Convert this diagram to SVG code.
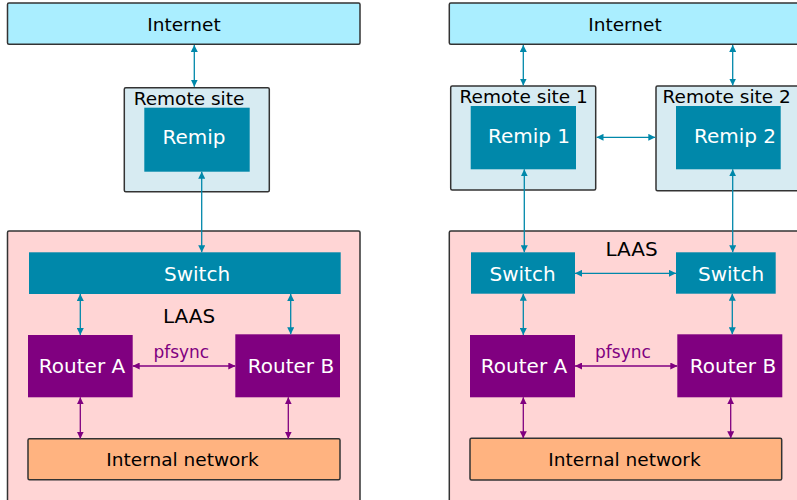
<svg xmlns="http://www.w3.org/2000/svg" width="797" height="500" viewBox="0 0 797 500">
  <style>
    text { font-family: "DejaVu Sans", "Liberation Sans", sans-serif; text-anchor: middle; }
    .frame { stroke: #333; stroke-width: 1.5; }
    .inet { fill: #aaeeff; }
    .site { fill: #d7ebf2; }
    .laas { fill: #ffd5d5; }
    .intnet { fill: #ffb380; }
    .teal { fill: #0088aa; }
    .router { fill: #800080; }
    .lbl { fill: #000; font-size: 18.5px; }
    .nlbl { fill: #fff; font-size: 20px; }
    .big { fill: #000; font-size: 20px; }
    .sync { fill: #800080; font-size: 17px; }
    .ct { stroke: #0088aa; stroke-width: 1.3; fill: none; marker-start: url(#ht); marker-end: url(#ht); }
    .cp { stroke: #800080; stroke-width: 1.3; fill: none; marker-start: url(#hp); marker-end: url(#hp); }
  </style>
  <defs>
    <marker id="ht" viewBox="0 0 10 10" refX="10" refY="5" markerWidth="7" markerHeight="7" markerUnits="userSpaceOnUse" orient="auto-start-reverse">
      <path d="M0,0 L10,5 L0,10 z" fill="#0088aa"/>
    </marker>
    <marker id="hp" viewBox="0 0 10 10" refX="10" refY="5" markerWidth="7" markerHeight="7" markerUnits="userSpaceOnUse" orient="auto-start-reverse">
      <path d="M0,0 L10,5 L0,10 z" fill="#800080"/>
    </marker>
  </defs>

  <!-- Left: single remote site -->
  <g id="l-internet">
    <rect class="inet frame" x="7.5" y="3" width="352.5" height="41.3" rx="1.5"/>
    <text class="lbl" x="184" y="30.7">Internet</text>
  </g>
  <g id="l-remote-site">
    <rect class="site frame" x="124.3" y="87.7" width="145" height="104" rx="1.5"/>
    <text class="lbl" x="189" y="105">Remote site</text>
  </g>
  <g id="l-remip">
    <rect class="teal" x="144.3" y="107.7" width="105.4" height="64"/>
    <text class="nlbl" x="194" y="144">Remip</text>
  </g>
  <g id="l-laas">
    <rect class="laas frame" x="7.5" y="231" width="352.5" height="280" rx="1.5"/>
    <text class="big" x="189" y="322.7">LAAS</text>
  </g>
  <g id="l-switch">
    <rect class="teal" x="29" y="252.3" width="311.7" height="41.7"/>
    <text class="nlbl" x="197" y="281">Switch</text>
  </g>
  <g id="l-router-a">
    <rect class="router" x="28" y="335" width="104.7" height="62.3"/>
    <text class="nlbl" x="82" y="373.3">Router A</text>
  </g>
  <g id="l-router-b">
    <rect class="router" x="235.3" y="334.3" width="104.7" height="63"/>
    <text class="nlbl" x="291" y="373.3">Router B</text>
  </g>
  <g id="l-internal">
    <rect class="intnet frame" x="28" y="438.7" width="312" height="41" rx="1.5"/>
    <text class="lbl" x="182.5" y="466">Internal network</text>
  </g>

  <!-- Right: two remote sites -->
  <g id="r-internet">
    <rect class="inet frame" x="449.3" y="3" width="360" height="41.3" rx="1.5"/>
    <text class="lbl" x="625" y="30.7">Internet</text>
  </g>
  <g id="r-remote-site-1">
    <rect class="site frame" x="450.7" y="86" width="145" height="104" rx="1.5"/>
    <text class="lbl" x="523.7" y="102.5">Remote site 1</text>
  </g>
  <g id="r-remip-1">
    <rect class="teal" x="470.7" y="106" width="105.3" height="63.3"/>
    <text class="nlbl" x="529" y="142.7">Remip 1</text>
  </g>
  <g id="r-remote-site-2">
    <rect class="site frame" x="656" y="86" width="150" height="104.7" rx="1.5"/>
    <text class="lbl" x="726.7" y="102.5">Remote site 2</text>
  </g>
  <g id="r-remip-2">
    <rect class="teal" x="676" y="106" width="104.7" height="63.3"/>
    <text class="nlbl" x="735" y="142.7">Remip 2</text>
  </g>
  <g id="r-laas">
    <rect class="laas frame" x="449.3" y="231" width="360" height="280" rx="1.5"/>
    <text class="big" x="631.5" y="255.7">LAAS</text>
  </g>
  <g id="r-switch-a">
    <rect class="teal" x="471" y="252.3" width="104" height="41.4"/>
    <text class="nlbl" x="522.5" y="281">Switch</text>
  </g>
  <g id="r-switch-b">
    <rect class="teal" x="676" y="252.3" width="99.7" height="41.4"/>
    <text class="nlbl" x="731" y="281">Switch</text>
  </g>
  <g id="r-router-a">
    <rect class="router" x="470" y="335" width="105" height="62.3"/>
    <text class="nlbl" x="524" y="373.3">Router A</text>
  </g>
  <g id="r-router-b">
    <rect class="router" x="677.3" y="334.3" width="105" height="63"/>
    <text class="nlbl" x="733" y="373.3">Router B</text>
  </g>
  <g id="r-internal">
    <rect class="intnet frame" x="470" y="438.3" width="311.7" height="41.7" rx="1.5"/>
    <text class="lbl" x="624.5" y="466">Internal network</text>
  </g>

  <!-- Connectors -->
  <g id="connectors">
    <!-- left -->
    <line class="ct" x1="194.3" y1="45" x2="194.3" y2="86.7"/>
    <line class="ct" x1="201.7" y1="171.7" x2="201.7" y2="252.3"/>
    <line class="ct" x1="80.3" y1="294" x2="80.3" y2="335"/>
    <line class="ct" x1="290.7" y1="294" x2="290.7" y2="334.3"/>
    <line class="cp" x1="132.7" y1="366" x2="235.3" y2="366"/>
    <line class="cp" x1="80.3" y1="397.3" x2="80.3" y2="438.7"/>
    <line class="cp" x1="288.3" y1="397.3" x2="288.3" y2="438.7"/>
    <text class="sync" x="181.3" y="358.3">pfsync</text>
    <!-- right -->
    <line class="ct" x1="523.3" y1="45" x2="523.3" y2="85.5"/>
    <line class="ct" x1="732.7" y1="45" x2="732.7" y2="85.5"/>
    <line class="ct" x1="596.5" y1="137.3" x2="655.3" y2="137.3"/>
    <line class="ct" x1="524.3" y1="169.3" x2="524.3" y2="252.3"/>
    <line class="ct" x1="732.7" y1="169.3" x2="732.7" y2="252.3"/>
    <line class="ct" x1="575" y1="273.3" x2="676" y2="273.3"/>
    <line class="ct" x1="523.3" y1="293.7" x2="523.3" y2="335"/>
    <line class="ct" x1="732.3" y1="293.7" x2="732.3" y2="334.3"/>
    <line class="cp" x1="575" y1="366" x2="677.3" y2="366"/>
    <line class="cp" x1="523.3" y1="397.3" x2="523.3" y2="438.3"/>
    <line class="cp" x1="730.7" y1="397.3" x2="730.7" y2="438.3"/>
    <text class="sync" x="623" y="358.3">pfsync</text>
  </g>
</svg>
